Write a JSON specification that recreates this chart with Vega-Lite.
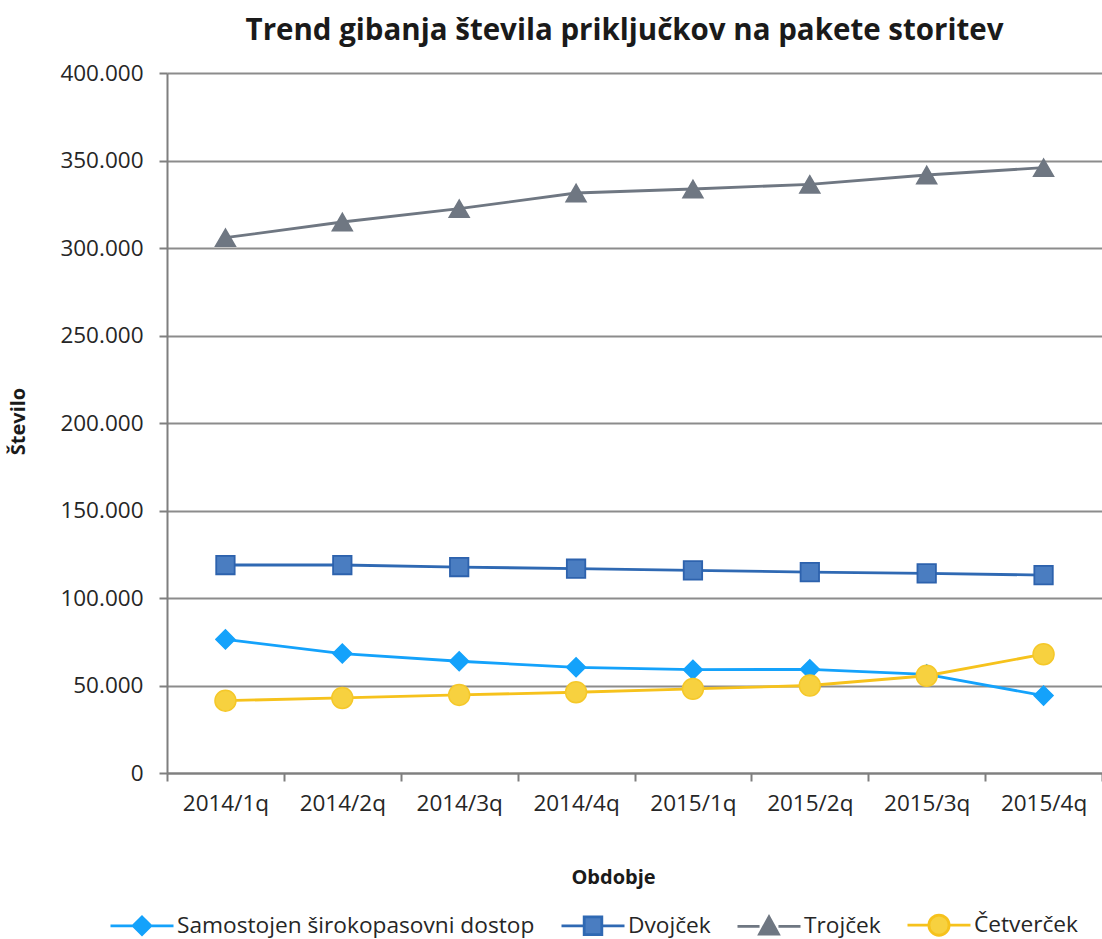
{
  "$schema": "https://vega.github.io/schema/vega-lite/v6.json",
  "width": 935,
  "height": 700,
  "autosize": "none",
  "padding": {"left": 167, "top": 73, "right": 0, "bottom": 166},
  "background": "white",
  "config": {
    "view": {"stroke": null},
    "font": "Open Sans",
    "locale": {"number": {"decimal": ",", "thousands": ".", "grouping": [3], "currency": ["", " €"]}}
  },
  "title": {
    "text": "Trend gibanja števila priključkov na pakete storitev",
    "font": "Open Sans",
    "fontSize": 29.5,
    "fontWeight": "bold",
    "color": "#1a1a1a",
    "anchor": "middle",
    "dx": -10,
    "offset": 16
  },
  "data": {
    "values": [
      {"period": "2014/1q", "series": "Samostojen širokopasovni dostop", "value": 76346},
      {"period": "2014/2q", "series": "Samostojen širokopasovni dostop", "value": 68269},
      {"period": "2014/3q", "series": "Samostojen širokopasovni dostop", "value": 63846},
      {"period": "2014/4q", "series": "Samostojen širokopasovni dostop", "value": 60385},
      {"period": "2015/1q", "series": "Samostojen širokopasovni dostop", "value": 59038},
      {"period": "2015/2q", "series": "Samostojen širokopasovni dostop", "value": 59231},
      {"period": "2015/3q", "series": "Samostojen širokopasovni dostop", "value": 56346},
      {"period": "2015/4q", "series": "Samostojen širokopasovni dostop", "value": 44231},
      {"period": "2014/1q", "series": "Dvojček", "value": 118846},
      {"period": "2014/2q", "series": "Dvojček", "value": 118846},
      {"period": "2014/3q", "series": "Dvojček", "value": 117692},
      {"period": "2014/4q", "series": "Dvojček", "value": 116731},
      {"period": "2015/1q", "series": "Dvojček", "value": 115769},
      {"period": "2015/2q", "series": "Dvojček", "value": 114808},
      {"period": "2015/3q", "series": "Dvojček", "value": 114038},
      {"period": "2015/4q", "series": "Dvojček", "value": 113077},
      {"period": "2014/1q", "series": "Trojček", "value": 305900},
      {"period": "2014/2q", "series": "Trojček", "value": 314857},
      {"period": "2014/3q", "series": "Trojček", "value": 322476},
      {"period": "2014/4q", "series": "Trojček", "value": 331428},
      {"period": "2015/1q", "series": "Trojček", "value": 333714},
      {"period": "2015/2q", "series": "Trojček", "value": 336381},
      {"period": "2015/3q", "series": "Trojček", "value": 341714},
      {"period": "2015/4q", "series": "Trojček", "value": 345905},
      {"period": "2014/1q", "series": "Četverček", "value": 41346},
      {"period": "2014/2q", "series": "Četverček", "value": 42885},
      {"period": "2014/3q", "series": "Četverček", "value": 44615},
      {"period": "2014/4q", "series": "Četverček", "value": 46154},
      {"period": "2015/1q", "series": "Četverček", "value": 48077},
      {"period": "2015/2q", "series": "Četverček", "value": 50000},
      {"period": "2015/3q", "series": "Četverček", "value": 55577},
      {"period": "2015/4q", "series": "Četverček", "value": 67885}
    ]
  },
  "encoding": {
    "x": {
      "field": "period",
      "type": "nominal",
      "sort": null,
      "scale": {"type": "band", "paddingInner": 0, "paddingOuter": 0},
      "axis": {
        "title": "Obdobje",
        "titleFont": "Open Sans",
        "titleFontSize": 20,
        "titleFontWeight": "bold",
        "titleColor": "#1a1a1a",
        "titleX": 446,
        "titleY": 104,
        "titleBaseline": "middle",
        "labelAngle": 0,
        "labelFont": "Open Sans",
        "labelFontSize": 22.5,
        "labelColor": "#262626",
        "labelPadding": 11,
        "tickBand": "extent",
        "tickSize": 8,
        "tickColor": "#7f7f7f",
        "tickWidth": 2,
        "domainColor": "#7f7f7f",
        "domainWidth": 2,
        "grid": false
      }
    },
    "y": {
      "field": "value",
      "type": "quantitative",
      "scale": {"domain": [0, 400000], "nice": false},
      "axis": {
        "title": "Število",
        "titleFont": "Open Sans",
        "titleFontSize": 20,
        "titleFontWeight": "bold",
        "titleColor": "#1a1a1a",
        "titleX": -149,
        "titleY": 348,
        "titleAngle": -90,
        "titleAlign": "center",
        "titleBaseline": "middle",
        "values": [0, 50000, 100000, 150000, 200000, 250000, 300000, 350000, 400000],
        "format": ",d",
        "labelFont": "Open Sans",
        "labelFontSize": 22.5,
        "labelColor": "#262626",
        "labelPadding": 16,
        "tickSize": 8,
        "tickColor": "#7f7f7f",
        "tickWidth": 2,
        "domainColor": "#7f7f7f",
        "domainWidth": 2,
        "grid": true,
        "gridColor": "#8c8c8c",
        "gridWidth": 2
      }
    }
  },
  "layer": [
    {
      "mark": {"type": "line", "strokeWidth": 2.8},
      "encoding": {
        "color": {
          "field": "series",
          "type": "nominal",
          "scale": {
            "domain": ["Samostojen širokopasovni dostop", "Dvojček", "Trojček", "Četverček"],
            "range": ["#14a2fb", "#2f69b3", "#6f7782", "#f6c21c"]
          },
          "legend": {
            "title": null,
            "orient": "none",
            "direction": "horizontal",
            "legendX": -58,
            "legendY": 819,
            "symbolSize": 3969,
            "symbolStrokeWidth": 2.8,
            "labelFont": "Open Sans",
            "labelFontSize": 22.7,
            "labelColor": "#262626",
            "labelOffset": 2,
            "labelLimit": 600,
            "columnPadding": 20,
            "encode": {
              "symbols": {
                "update": {
                  "shape": {"signal": "datum.value === 'Dvojček' ? 'M-1,0H-0.28M0.28,0H1M-0.28,-0.28H0.28V0.28H-0.28Z' : datum.value === 'Trojček' ? 'M-1,0H-0.3M0.3,0H1M0,-0.3L0.3,0.24H-0.3Z' : datum.value === 'Četverček' ? 'M-1,0H-0.32M0.32,0H1M-0.32,0A0.32,0.32 0 1,0 0.32,0A0.32,0.32 0 1,0 -0.32,0Z' : 'M-1,0H-0.28M0.28,0H1M0,-0.28L0.28,0L0,0.28L-0.28,0Z'"},
                  "fill": {"signal": "datum.value === 'Dvojček' ? '#4a7dc1' : datum.value === 'Trojček' ? '#6f7782' : datum.value === 'Četverček' ? '#f7d13f' : '#14a2fb'"},
                  "stroke": {"signal": "datum.value === 'Dvojček' ? '#2f69b3' : datum.value === 'Trojček' ? '#6f7782' : datum.value === 'Četverček' ? '#f6c21c' : '#14a2fb'"},
                  "strokeWidth": {"value": 2.8}
                }
              }
            }
          }
        }
      }
    },
    {
      "transform": [{"filter": "datum.series === 'Samostojen širokopasovni dostop'"}],
      "mark": {"type": "point", "shape": "diamond", "size": 360, "filled": true, "opacity": 1, "fill": "#14a2fb", "stroke": "#14a2fb", "strokeWidth": 1.5}
    },
    {
      "transform": [{"filter": "datum.series === 'Dvojček'"}],
      "mark": {"type": "point", "shape": "square", "size": 340, "filled": true, "opacity": 1, "fill": "#4a7dc1", "stroke": "#2d62ad", "strokeWidth": 1.8}
    },
    {
      "transform": [{"filter": "datum.series === 'Trojček'"}],
      "mark": {"type": "point", "shape": "triangle-up", "size": 400, "filled": true, "opacity": 1, "fill": "#6f7782", "stroke": "#6f7782", "strokeWidth": 1.5}
    },
    {
      "transform": [{"filter": "datum.series === 'Četverček'"}],
      "mark": {"type": "point", "shape": "circle", "size": 440, "filled": true, "opacity": 1, "fill": "#f7d13f", "stroke": "#f5c829", "strokeWidth": 1.5}
    }
  ]
}
